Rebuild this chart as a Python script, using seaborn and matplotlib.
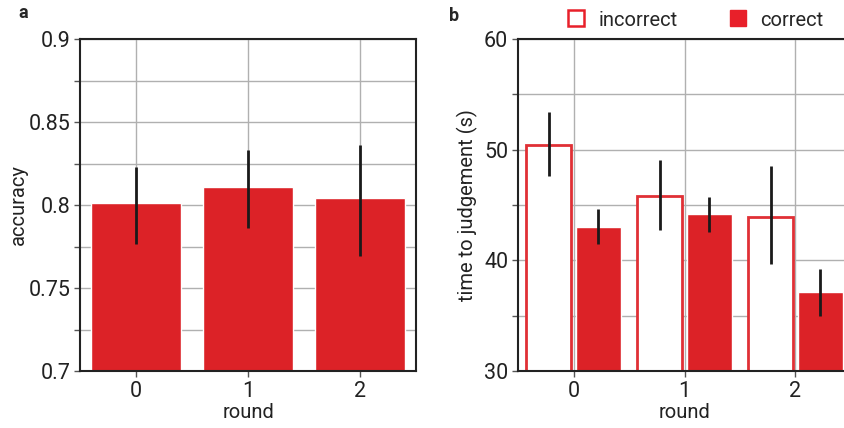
import numpy as np
import pandas as pd
import matplotlib
matplotlib.use('Agg')
import matplotlib.pyplot as plt
from matplotlib.lines import Line2D
import seaborn as sns

# panel a: accuracy per round
rounds = ['0', '1', '2']
accuracy = [0.801, 0.811, 0.804]
acc_lo = [0.7765, 0.786, 0.769]
acc_hi = [0.823, 0.833, 0.836]

# panel b: time to judgement per round, incorrect vs correct
outcomes = ['incorrect', 'correct']
time_incorrect = [50.4, 45.8, 43.9]
time_correct = [43.0, 44.2, 37.1]
inc_lo = [47.6, 42.7, 39.7]
inc_hi = [53.4, 49.1, 48.5]
cor_lo = [41.5, 42.6, 35.0]
cor_hi = [44.6, 45.7, 39.2]

red = '#dc2227'
sns.set_theme(style='ticks')
plt.rcParams['font.family'] = ['Roboto', 'DejaVu Sans']
plt.rcParams['axes.edgecolor'] = '#222222'

fig = plt.figure(figsize=(8.44, 4.28), dpi=100)
ax1 = fig.add_axes([80 / 844, 57 / 428, 336 / 844, 332 / 428])
ax2 = fig.add_axes([518 / 844, 57 / 428, 333 / 844, 332 / 428])

df_a = pd.DataFrame({'round': rounds, 'accuracy': accuracy})
sns.barplot(data=df_a, x='round', y='accuracy', color=red, saturation=1,
            width=0.8, errorbar=None, ax=ax1, zorder=2)
ax1.vlines(range(len(rounds)), acc_lo, acc_hi, color='#1a1a1a', lw=2, zorder=3)
ax1.set_ylim(0.7, 0.9)
ax1.set_yticks([0.7, 0.75, 0.8, 0.85, 0.9])
ax1.set_yticklabels(['0.7', '0.75', '0.8', '0.85', '0.9'])
ax1.set_yticks([0.725, 0.775, 0.825, 0.875], minor=True)

df_b = pd.DataFrame({
    'round': rounds * 2,
    'outcome': [outcomes[0]] * 3 + [outcomes[1]] * 3,
    'time': time_incorrect + time_correct,
})
sns.barplot(data=df_b, x='round', y='time', hue='outcome', hue_order=outcomes,
            palette=[red, red], saturation=1, width=0.9, gap=0.1,
            errorbar=None, legend=False, ax=ax2, zorder=2)
for p in ax2.patches[:3]:
    p.set_facecolor('white')
    p.set_edgecolor('#e03035')
    p.set_linewidth(2)
pos = np.arange(len(rounds))
ax2.vlines(pos - 0.225, inc_lo, inc_hi, color='#1a1a1a', lw=2, zorder=3)
ax2.vlines(pos + 0.225, cor_lo, cor_hi, color='#1a1a1a', lw=2, zorder=3)
ax2.set_ylim(30, 60)
ax2.set_yticks([30, 40, 50, 60])
ax2.set_yticks([35, 45, 55], minor=True)

for ax in (ax1, ax2):
    ax.set_xlim(-0.5, 2.5)
    ax.set_axisbelow(True)
    ax.grid(axis='x', which='major', color='#b0b0b0', lw=1)
    ax.grid(axis='y', which='both', color='#b0b0b0', lw=1)
    for s in ax.spines.values():
        s.set_linewidth(1.5)
        s.set_color('#222222')
    ax.tick_params(axis='both', which='major', labelsize=15.5, length=4,
                   width=1, color='#555555', pad=3, labelcolor='#222222')
    ax.tick_params(axis='y', which='minor', length=4, width=1, color='#555555')
    ax.set_xlabel('round', fontsize=14.5, labelpad=1, color='#222222')

ax1.set_ylabel('accuracy', fontsize=14.5, labelpad=0.5, color='#222222')
ax2.set_ylabel('time to judgement (s)', fontsize=14.5, labelpad=4, color='#222222')

handles = [
    Line2D([], [], marker='s', ls='', ms=12, markerfacecolor='white',
           markeredgecolor='#e8202a', markeredgewidth=1.8),
    Line2D([], [], marker='s', ls='', ms=12, markerfacecolor='#e8202a',
           markeredgecolor='#e8202a'),
]
fig.legend(handles, outcomes, loc='center left', bbox_to_anchor=(566 / 844, 1 - 20 / 428),
           ncol=2, frameon=False, fontsize=14.5, handletextpad=0.6,
           columnspacing=2.5, handlelength=1.0, borderaxespad=0, borderpad=0)

fig.text(18 / 844, 1 - 13 / 428, 'a', fontsize=13, fontweight='bold', va='center')
fig.text(449 / 844, 1 - 16 / 428, 'b', fontsize=13, fontweight='bold', va='center')

fig.savefig('out.png', dpi=100)
